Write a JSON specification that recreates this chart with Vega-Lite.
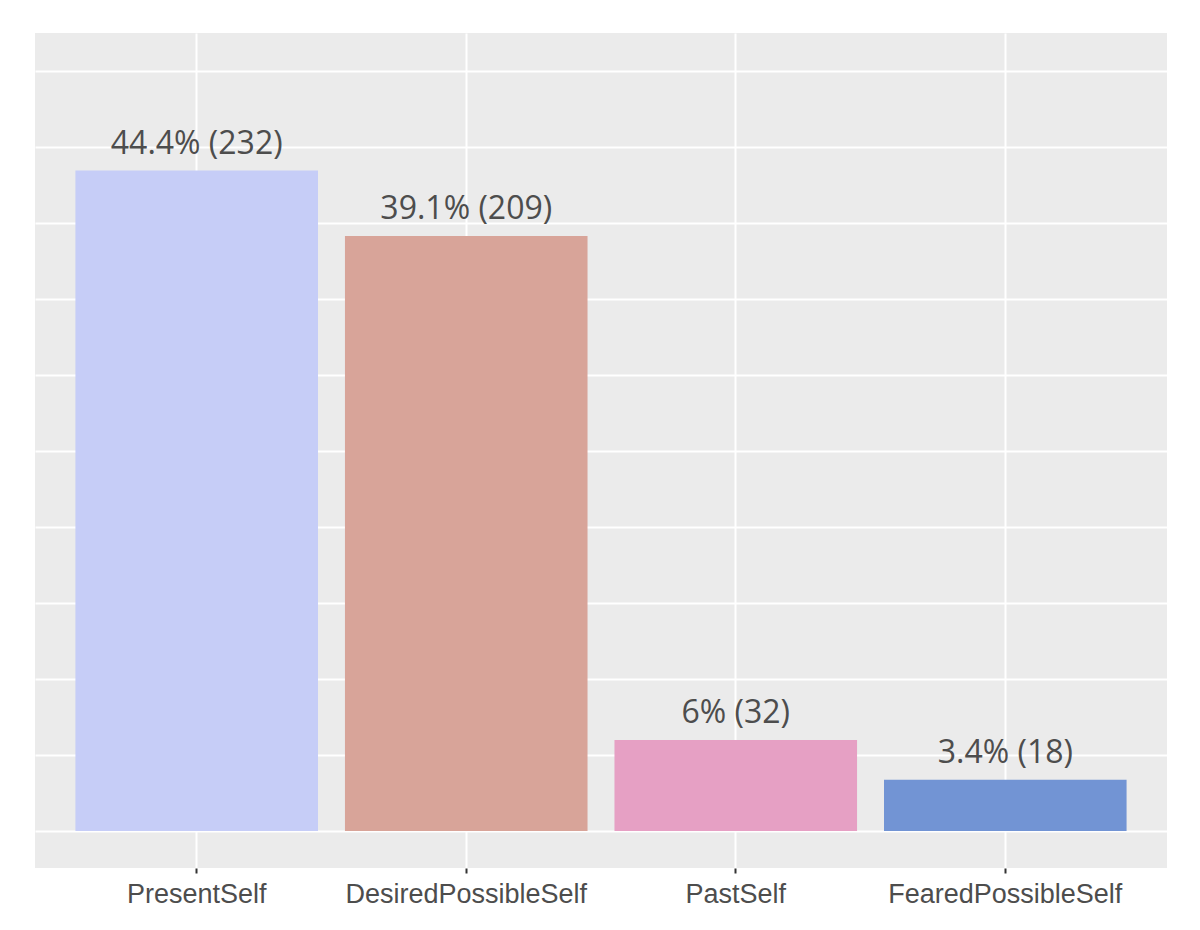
{
  "$schema": "https://vega.github.io/schema/vega-lite/v6.json",
  "width": 1132,
  "height": 835,
  "autosize": {"type": "none"},
  "padding": {"left": 35, "top": 33, "right": 33, "bottom": 62},
  "background": "white",
  "config": {
    "view": {"fill": "#EBEBEB", "stroke": null}
  },
  "data": {
    "values": [
      {"category": "PresentSelf", "count": 232, "share": 0.4345, "label": "44.4% (232)"},
      {"category": "DesiredPossibleSelf", "count": 209, "share": 0.3914, "label": "39.1% (209)"},
      {"category": "PastSelf", "count": 32, "share": 0.0599, "label": "6% (32)"},
      {"category": "FearedPossibleSelf", "count": 18, "share": 0.0337, "label": "3.4% (18)"}
    ]
  },
  "encoding": {
    "x": {
      "field": "category",
      "type": "nominal",
      "sort": null,
      "scale": {"paddingInner": 0.1, "paddingOuter": 0.15},
      "axis": {
        "title": null,
        "labelAngle": 0,
        "labelLimit": 0,
        "labelOverlap": false,
        "labelFont": "Liberation Sans",
        "labelFontSize": 27,
        "labelColor": "#4D4D4D",
        "labelPadding": 8,
        "tickSize": 5,
        "tickWidth": 2,
        "tickColor": "#333333",
        "domain": false,
        "grid": true,
        "gridColor": "#FFFFFF",
        "gridWidth": 2,
        "bandPosition": 0.5
      }
    },
    "y": {
      "field": "share",
      "type": "quantitative",
      "scale": {"domain": [-0.0243, 0.525], "nice": false, "zero": false},
      "axis": {
        "title": null,
        "labels": false,
        "ticks": false,
        "domain": false,
        "grid": true,
        "gridColor": "#FFFFFF",
        "gridWidth": 2,
        "values": [0, 0.05, 0.1, 0.15, 0.2, 0.25, 0.3, 0.35, 0.4, 0.45, 0.5]
      }
    }
  },
  "layer": [
    {
      "mark": {"type": "bar"},
      "encoding": {
        "y2": {"datum": 0},
        "color": {
          "field": "category",
          "type": "nominal",
          "legend": null,
          "scale": {
            "domain": ["PresentSelf", "DesiredPossibleSelf", "PastSelf", "FearedPossibleSelf"],
            "range": ["#C6CDF7", "#D8A499", "#E6A0C4", "#7294D4"]
          }
        }
      }
    },
    {
      "mark": {
        "type": "text",
        "font": "Open Sans",
        "fontSize": 32,
        "color": "#4D4D4D",
        "baseline": "alphabetic",
        "align": "center",
        "dy": -17
      },
      "encoding": {
        "text": {"field": "label"}
      }
    }
  ]
}
